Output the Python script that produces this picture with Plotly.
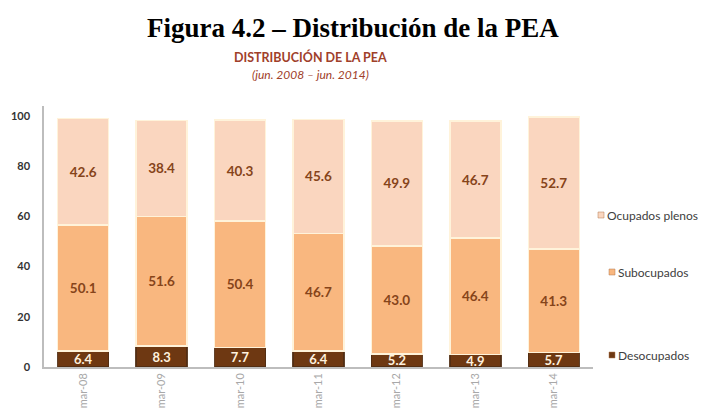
import plotly.graph_objects as go

categories = ["mar-08", "mar-09", "mar-10", "mar-11", "mar-12", "mar-13", "mar-14"]
desocupados = [6.4, 8.3, 7.7, 6.4, 5.2, 4.9, 5.7]
subocupados = [50.1, 51.6, 50.4, 46.7, 43.0, 46.4, 41.3]
ocupados_plenos = [42.6, 38.4, 40.3, 45.6, 49.9, 46.7, 52.7]
y_ticks = [0, 20, 40, 60, 80, 100]

series = [
    ("Desocupados", desocupados, "#6E3812", "#FFF1DE", "rgba(80,45,20,0.9)", 13),
    ("Subocupados", subocupados, "#F9B77F", "#86441A", "#FFF3DA", 13.5),
    ("Ocupados plenos", ocupados_plenos, "#FAD6BF", "#86441A", "#FFF3DA", 13.5),
]

fig = go.Figure()
for name, vals, col, tcol, lcol, fs in series:
    fig.add_trace(go.Bar(
        x=categories, y=vals, name=name,
        marker=dict(color=col, line=dict(color=lcol, width=1.5)),
        text=[f"{v:.1f}" for v in vals], textposition="inside",
        insidetextanchor="middle", constraintext="none",
        textfont=dict(family="Lato", size=fs, color=tcol, weight="bold"),
        showlegend=False, hoverinfo="skip",
    ))

L, R, T, B = 44, 593, 106, 367
fig.update_layout(
    barmode="stack", bargap=0.35,
    width=707, height=416,
    margin=dict(l=L, r=707 - R, t=T, b=416 - B, autoexpand=False),
    paper_bgcolor="white", plot_bgcolor="white",
    font=dict(family="Lato"),
)
fig.update_yaxes(range=[0, 100 * (B - T) / 251.0], tickvals=y_ticks, showgrid=False,
                 showline=True, linecolor="#BDBDBD", linewidth=1.5,
                 ticks="outside", ticklen=10, tickcolor="white",
                 tickfont=dict(family="Lato", size=11, color="#333333", weight="bold"))
fig.update_xaxes(showline=True, linecolor="#BDBDBD", linewidth=1.5,
                 tickangle=-90, tickfont=dict(family="Lato", size=11, color="#A8A8A8"))


def py(p):
    return (B - p) / float(B - T)


def px(p):
    return (p - L) / float(R - L)


fig.add_annotation(text="<b>Figura 4.2 – Distribución de la PEA</b>", xref="paper", yref="paper",
                   x=px(353), y=py(28), showarrow=False, xanchor="center", yanchor="middle",
                   font=dict(family="Liberation Serif", size=27, color="black"))
fig.add_annotation(text="<b>DISTRIBUCIÓN DE LA PEA</b>", xref="paper", yref="paper",
                   x=px(310), y=py(57), showarrow=False, xanchor="center", yanchor="middle",
                   font=dict(family="Lato", size=12.5, color="#A0402A"))
fig.add_annotation(text="<i>(jun. 2008 – jun. 2014)</i>", xref="paper", yref="paper",
                   x=px(310), y=py(74), showarrow=False, xanchor="center", yanchor="middle",
                   font=dict(family="Lato", size=12, color="#A0402A"))

# Legend
legend_items = [("Ocupados plenos", "#FAD6BF", 215, 598), ("Subocupados", "#F9B77F", 272, 609),
                ("Desocupados", "#6E3812", 355, 609)]
for name, col, yy, xx in legend_items:
    fig.add_shape(type="rect", xref="paper", yref="paper",
                  x0=px(xx), x1=px(xx + 6), y0=py(yy + 3), y1=py(yy - 3),
                  fillcolor=col, line=dict(color="#B07A50", width=0.5))
    fig.add_annotation(text=name, xref="paper", yref="paper", x=px(xx + 7), y=py(yy),
                       xanchor="left", yanchor="middle", showarrow=False,
                       font=dict(family="Lato", size=12, color="#404040"))

fig.write_html("out.html", config={"displayModeBar": False},
               post_script="document.body.style.margin='0';")
